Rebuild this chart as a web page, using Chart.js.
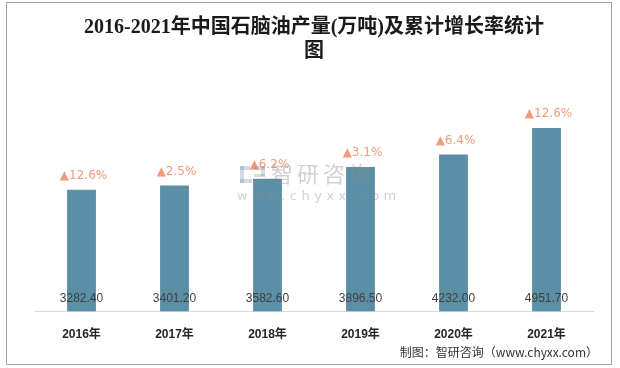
<!DOCTYPE html>
<html>
<head>
<meta charset="utf-8">
<script src="https://cdn.jsdelivr.net/npm/chart.js@4.4.1/dist/chart.umd.min.js"></script>
<style>
  html, body { margin: 0; padding: 0; background: #fff; }
  #wrap { position: relative; width: 620px; height: 368px; }
  #frame { position: absolute; left: 6px; top: 2px; width: 604px; height: 361px; border: 1px solid #a6a6a6; pointer-events: none; }
</style>
</head>
<body>
<div id="wrap">
  <canvas id="chart" width="620" height="368"></canvas>
  <div id="frame"></div>
</div>
<script>
// Data
const years = ["2016年", "2017年", "2018年", "2019年", "2020年", "2021年"];
const output = [3282.4, 3401.2, 3582.6, 3896.5, 4232.0, 4951.7];
const growth = ["12.6%", "2.5%", "6.2%", "3.1%", "6.4%", "12.6%"];
const titleLines = ["2016-2021年中国石脑油产量(万吨)及累计增长率统计", "图"];
const sourceNote = "制图：智研咨询（www.chyxx.com）";

const BAR_COLOR = "#5b8fa6";
const GROWTH_COLOR = "#f19a7c";
const CJK = "\"Noto Sans CJK SC\", sans-serif";

// Labels on bars: value at the foot, growth above the top
const barLabels = {
  id: "barLabels",
  afterDatasetsDraw(chart) {
    const ctx = chart.ctx;
    const meta = chart.getDatasetMeta(0);
    const base = chart.scales.y.getPixelForValue(0);
    ctx.save();
    ctx.textAlign = "center";
    ctx.textBaseline = "middle";
    meta.data.forEach((bar, i) => {
      ctx.font = "12px \"Liberation Sans\", sans-serif";
      ctx.fillStyle = "#404040";
      ctx.fillText(output[i].toFixed(2), bar.x, base - 13);

      ctx.font = "12px \"DejaVu Sans\", sans-serif";
      ctx.fillStyle = GROWTH_COLOR;
      ctx.fillText("▲" + growth[i], bar.x + 2, bar.y - 14);
    });
    ctx.restore();
  }
};

// Watermark + source note
const extras = {
  id: "extras",
  afterDraw(chart) {
    const ctx = chart.ctx;
    ctx.save();
    // watermark logo (rough)
    ctx.fillStyle = "rgba(120,150,180,0.35)";
    ctx.fillRect(240, 166, 10, 4);
    ctx.fillRect(240, 166, 4, 17);
    ctx.fillRect(240, 179, 12, 4);
    ctx.fillStyle = "rgba(150,150,150,0.35)";
    ctx.fillRect(254, 166, 11, 4);
    ctx.fillRect(261, 166, 4, 10);
    ctx.fillRect(254, 174, 11, 3);

    ctx.fillStyle = "rgba(140,140,140,0.4)";
    ctx.textBaseline = "middle";
    ctx.textAlign = "left";
    ctx.font = "22px " + CJK;
    ctx.letterSpacing = "4px";
    ctx.fillText("智研咨询", 271, 174);
    ctx.font = "13px \"DejaVu Sans\", sans-serif";
    ctx.letterSpacing = "4.5px";
    ctx.fillText("www.chyxx.com", 237, 197);
    ctx.letterSpacing = "0px";

    ctx.fillStyle = "#333";
    ctx.textAlign = "right";
    ctx.font = "12px " + CJK;
    ctx.fillText(sourceNote, 598, 352);
    ctx.restore();
  }
};

new Chart(document.getElementById("chart"), {
  type: "bar",
  data: {
    labels: years,
    datasets: [{
      data: output,
      backgroundColor: BAR_COLOR,
      borderWidth: 0,
      categoryPercentage: 1,
      barPercentage: 0.31,
    }],
  },
  options: {
    responsive: false,
    animation: false,
    layout: { padding: { left: 35, right: 27, top: 0, bottom: 18 } },
    plugins: {
      legend: { display: false },
      tooltip: { enabled: false },
      title: {
        display: true,
        text: titleLines,
        color: "#1a1a1a",
        font: { family: "\"Liberation Serif\", " + CJK, size: 20, weight: "bold", lineHeight: 1.2 },
        padding: { top: 16, bottom: 25 },
      },
    },
    scales: {
      x: {
        grid: { display: false },
        border: { display: true, color: "#d9d9d9", width: 1 },
        ticks: {
          color: "#262626",
          padding: 8,
          font: { family: "\"Liberation Sans\", " + CJK, size: 12, weight: "bold" },
        },
      },
      y: {
        display: false,
        min: 0,
        max: 6000,
      },
    },
  },
  plugins: [barLabels, extras],
});
</script>
</body>
</html>
